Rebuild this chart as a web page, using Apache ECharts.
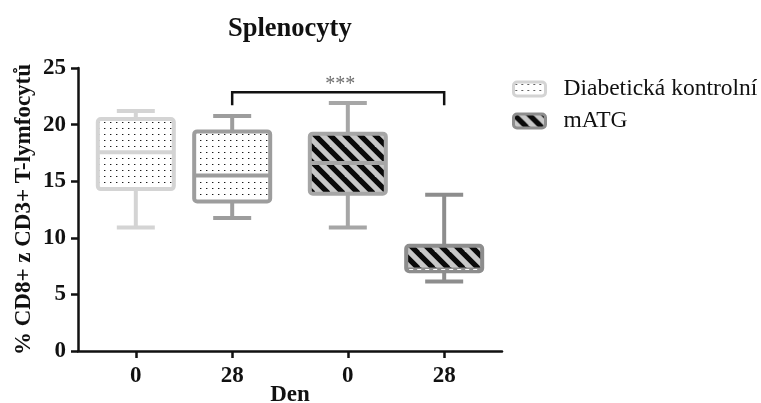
<!DOCTYPE html>
<html>
<head>
<meta charset="utf-8">
<script src="https://cdn.jsdelivr.net/npm/echarts@6/dist/echarts.min.js"></script>
<style>
  html, body { margin: 0; padding: 0; background: #fff; }
  #chart { width: 761px; height: 403px; }
</style>
</head>
<body>
<div id="chart"></div>
<script>
// ---- data ----
const groupNames = ['Diabetická kontrolní', 'mATG'];
const dayLabels = ['0', '28'];
// [min, Q1, median, Q3, max] for day 0 and day 28
const diabeticStats = [
  [10.9, 14.3, 17.55, 20.5, 21.2],
  [11.75, 13.2, 15.5, 19.4, 20.75]
];
const matgStats = [
  [10.9, 13.9, 16.6, 19.2, 21.9],
  [6.15, 7.05, 7.2, 9.3, 13.8]
];
// significance bracket between Diabetická day 28 and mATG day 28
const sigLabel = '***';
const sigTop = 22.85;
const sigFoot = 21.7;

// ---- layout & style ----
const FONT = '"Liberation Serif", "Times New Roman", serif';
const slotCount = 23;
const groupSlots = [[3, 8], [14, 19]];
const borderColors = [['#d4d4d4', '#9d9d9d'], ['#a6a6a6', '#8d8d8d']];
const dashedMedian = [[false, false], [false, true]];

const tickSlots = groupSlots.flat();
const slotLabels = Array.from({ length: slotCount }, () => '');
groupSlots.forEach(slots => slots.forEach((s, i) => { slotLabels[s] = dayLabels[i]; }));

function makeDots() {
  const c = document.createElement('canvas');
  c.width = 6; c.height = 6;
  const g = c.getContext('2d');
  g.fillStyle = '#ffffff'; g.fillRect(0, 0, 6, 6);
  g.fillStyle = '#1a1a1a'; g.fillRect(2, 2, 1, 1);
  g.fillStyle = 'rgba(0,0,0,0.35)'; g.fillRect(3, 2, 1, 1);
  return c;
}
function makeStripes() {
  const s = 15;
  const c = document.createElement('canvas');
  c.width = s; c.height = s;
  const g = c.getContext('2d');
  g.fillStyle = '#c8c8c8'; g.fillRect(0, 0, s, s);
  g.strokeStyle = '#0a0a0a'; g.lineWidth = 5.3;
  for (let k = -1; k <= 1; k++) {
    g.beginPath();
    g.moveTo(k * s - 3, -3);
    g.lineTo(k * s + s + 3, s + 3);
    g.stroke();
  }
  return c;
}
const fills = [
  { image: makeDots(), repeat: 'repeat' },
  { image: makeStripes(), repeat: 'repeat' }
];

function boxData(gi, stats) {
  return stats.map((st, di) => [groupSlots[gi][di], ...st]);
}

function boxRenderer(gi) {
  return function (params, api) {
    const x = api.value(0);
    const di = params.dataIndex;
    const cx = api.coord([x, 0])[0];
    const y = k => api.coord([x, api.value(k)])[1];
    const yMin = y(1), yQ1 = y(2), yMed = y(3), yQ3 = y(4), yMax = y(5);
    const col = borderColors[gi][di];
    const half = 38, cap = 19, lw = 4;
    const line = (x1, y1, x2, y2, style) => ({
      type: 'line', shape: { x1, y1, x2, y2 },
      style: Object.assign({ stroke: col, lineWidth: lw }, style || {})
    });
    const children = [
      line(cx, yMax, cx, yQ3),
      line(cx, yQ1, cx, yMin),
      line(cx - cap, yMax, cx + cap, yMax),
      line(cx - cap, yMin, cx + cap, yMin),
      {
        type: 'rect',
        shape: { x: cx - half, y: yQ3, width: half * 2, height: yQ1 - yQ3, r: 3 },
        style: { fill: fills[gi], stroke: col, lineWidth: lw }
      },
      line(cx - half, yMed, cx + half, yMed)
    ];
    if (dashedMedian[gi][di]) {
      children.push(line(cx - half + 3, yMed, cx + half - 3, yMed,
        { stroke: '#ffffff', lineWidth: 1, lineDash: [4, 4] }));
    }
    return { type: 'group', children };
  };
}

const chart = echarts.init(document.getElementById('chart'), null, { renderer: 'canvas' });
chart.setOption({
  animation: false,
  backgroundColor: '#ffffff',
  title: {
    text: 'Splenocyty',
    left: 228, top: 16, padding: 0,
    textStyle: { fontFamily: FONT, fontSize: 26.5, fontWeight: 'bold', color: '#111' }
  },
  legend: {
    orient: 'vertical',
    left: 512, top: 77, padding: 0,
    itemWidth: 32, itemHeight: 14, itemGap: 8,
    textStyle: { fontFamily: FONT, fontSize: 23.5, color: '#111', padding: [0, 0, 0, 13] },
    data: [
      { name: groupNames[0], icon: 'roundRect',
        itemStyle: { color: fills[0], borderColor: '#d4d4d4', borderWidth: 3 } },
      { name: groupNames[1], icon: 'roundRect',
        itemStyle: { color: fills[1], borderColor: '#8d8d8d', borderWidth: 3 } }
    ]
  },
  grid: { left: 78, right: 259, top: 68, bottom: 52, containLabel: false, outerBoundsMode: 'none' },
  xAxis: {
    type: 'category',
    data: slotLabels,
    boundaryGap: false,
    name: 'Den',
    nameLocation: 'middle',
    nameGap: 33,
    nameMoveOverlap: false,
    nameTextStyle: { fontFamily: FONT, fontSize: 23, fontWeight: 'bold', color: '#111' },
    axisLine: { lineStyle: { color: '#111', width: 2.5 } },
    axisTick: {
      show: true, length: 7,
      interval: i => tickSlots.includes(i),
      lineStyle: { color: '#111', width: 2.5 }
    },
    axisLabel: {
      interval: i => tickSlots.includes(i),
      margin: 14,
      fontFamily: FONT, fontSize: 23, fontWeight: 'bold', color: '#111'
    },
    splitLine: { show: false }
  },
  yAxis: {
    type: 'value',
    min: 0, max: 25, interval: 5,
    name: '% CD8+ z CD3+ T-lymfocytů',
    nameLocation: 'middle',
    nameGap: 42,
    nameMoveOverlap: false,
    nameTextStyle: { fontFamily: FONT, fontSize: 23, fontWeight: 'bold', color: '#111' },
    axisLine: { show: true, lineStyle: { color: '#111', width: 2.5 } },
    axisTick: { show: true, length: 7, lineStyle: { color: '#111', width: 2.5 } },
    axisLabel: { margin: 12, fontFamily: FONT, fontSize: 23, fontWeight: 'bold', color: '#111' },
    splitLine: { show: false }
  },
  series: [
    {
      name: groupNames[0], type: 'custom',
      itemStyle: { color: '#d4d4d4' },
      encode: { x: 0, y: [1, 2, 3, 4, 5] },
      data: boxData(0, diabeticStats),
      renderItem: boxRenderer(0)
    },
    {
      name: groupNames[1], type: 'custom',
      itemStyle: { color: '#8d8d8d' },
      encode: { x: 0, y: [1, 2, 3, 4, 5] },
      data: boxData(1, matgStats),
      renderItem: boxRenderer(1)
    },
    {
      name: 'sig', type: 'custom',
      silent: true,
      encode: { x: [0, 1], y: [2, 3] },
      data: [[groupSlots[0][1], groupSlots[1][1], sigTop, sigFoot]],
      renderItem: function (params, api) {
        const [x1, yT] = api.coord([api.value(0), api.value(2)]);
        const [x2, yF] = api.coord([api.value(1), api.value(3)]);
        return {
          type: 'group',
          children: [
            { type: 'polyline',
              shape: { points: [[x1, yF], [x1, yT], [x2, yT], [x2, yF]] },
              style: { stroke: '#111', lineWidth: 2.5, fill: null } },
            { type: 'text',
              style: { x: (x1 + x2) / 2 + 2, y: yT - 8, text: sigLabel,
                       fill: '#6e6e6e', font: '20px ' + FONT,
                       textAlign: 'center', textVerticalAlign: 'middle' } }
          ]
        };
      }
    }
  ]
});
</script>
</body>
</html>
